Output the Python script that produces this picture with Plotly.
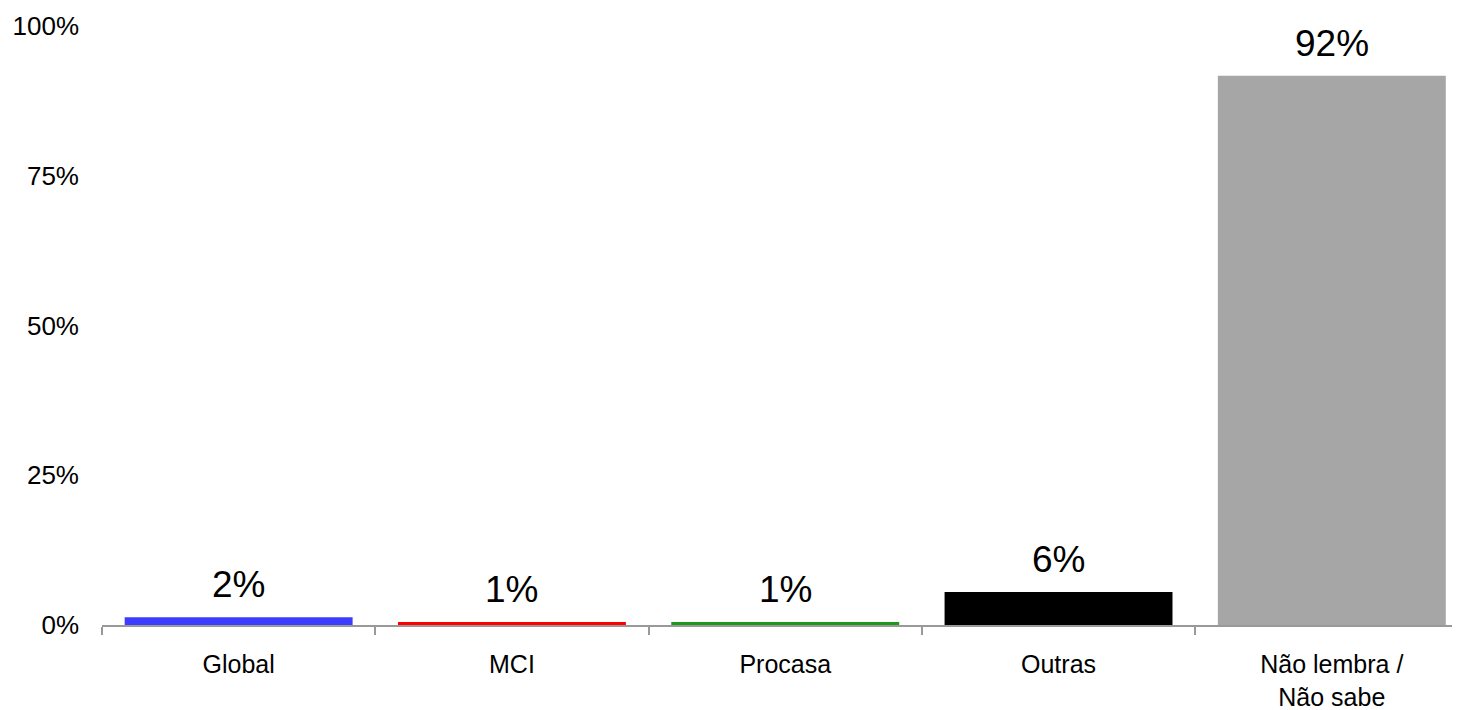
import plotly.graph_objects as go

categories = ["Global", "MCI", "Procasa", "Outras", "Não lembra /<br>Não sabe"]
values = [1.3, 0.5, 0.5, 5.5, 91.7]
labels = ["2%", "1%", "1%", "6%", "92%"]
colors = ["#3c3cff", "#ff0000", "#1a9a1a", "#000000", "#a6a6a6"]
y_ticks = [0, 25, 50, 75, 100]
y_tick_text = ["0%", "25%", "50%", "75%", "100%"]

FONT = "Liberation Sans, Arial, sans-serif"

fig = go.Figure()
fig.add_trace(go.Bar(
    x=categories, y=values,
    marker=dict(color=colors, line=dict(width=0)),
    hoverinfo="skip",
))

for c, v, t in zip(categories, values, labels):
    fig.add_annotation(x=c, y=v, text=t, showarrow=False, xref="x", yref="y",
                       yanchor="bottom", yshift=10,
                       font=dict(family=FONT, size=37, color="#000000"))

fig.update_layout(
    width=1452, height=702, autosize=False,
    margin=dict(l=94, r=0, t=17.5, b=84.5),
    paper_bgcolor="white", plot_bgcolor="white",
    bargap=0.166, showlegend=False,
    font=dict(family=FONT, size=26, color="#000000"),
)
fig.update_xaxes(
    type="category", range=[-0.5, 4.469],
    showline=True, linecolor="#999999", linewidth=2,
    ticks="outside", tickson="boundaries", ticklen=8, tickwidth=1.5, tickcolor="#999999",
    ticklabelstandoff=16,
    showgrid=False, zeroline=False,
    tickfont=dict(family=FONT, size=25, color="#000000"),
)
fig.update_yaxes(
    range=[0, 100], tickvals=y_ticks, ticktext=y_tick_text,
    showline=False, showgrid=False, zeroline=False, ticks="",
    ticklabelstandoff=22,
    tickfont=dict(family=FONT, size=26, color="#000000"),
)

fig.write_html("out.html")
